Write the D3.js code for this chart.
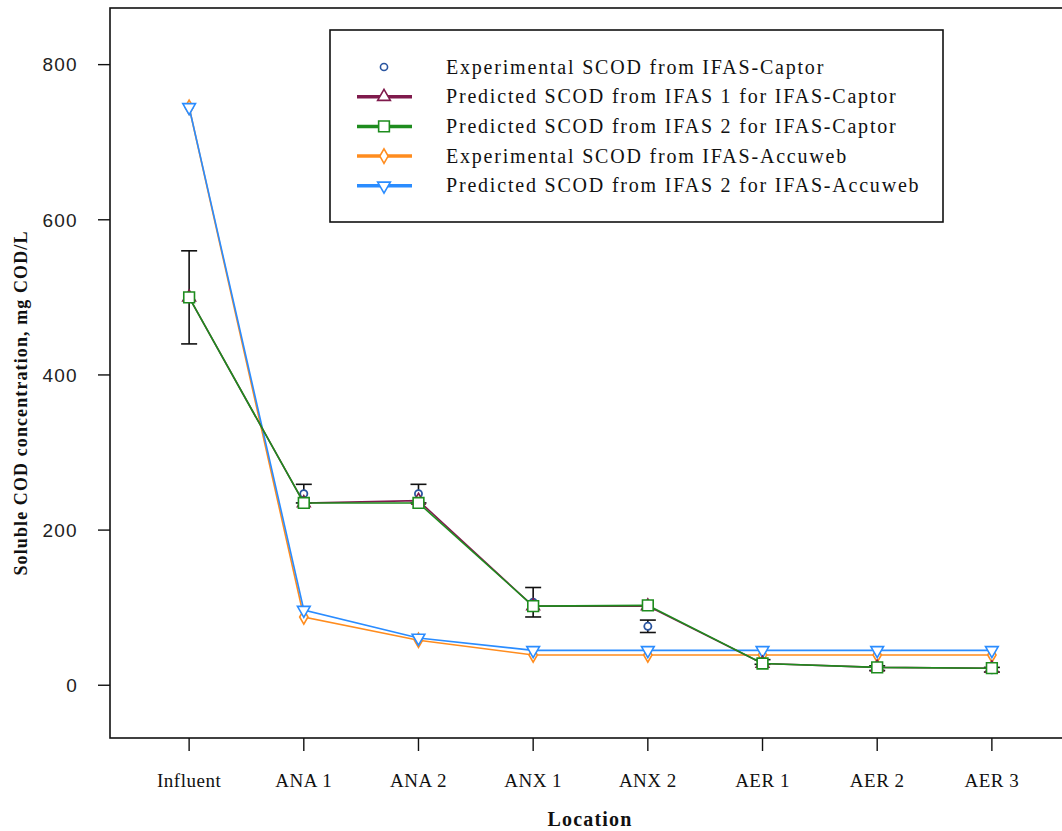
<!DOCTYPE html>
<html><head><meta charset="utf-8">
<script src="https://cdn.jsdelivr.net/npm/d3@7"></script>
<style>body{margin:0;background:#fff}svg{display:block}</style>
</head><body>
<script>
const categories = ["Influent","ANA 1","ANA 2","ANX 1","ANX 2","AER 1","AER 2","AER 3"];
const expCaptor = [500,247,247,107,76,30,22,20];
const expCaptorErr = [60,12,12,19,8,3,3,3];
const predIfas1Captor = [500,235,238,102,102,28,23,22];
const predIfas2Captor = [500,235,235,102,103,28,23,22];
const expAccuweb = [745,88,58,39,39,39,39,39];
const predIfas2Accuweb = [745,97,61,45,45,45,45,45];
const yTicks = [0,200,400,600,800];
const legendLabels = [
  "Experimental SCOD from IFAS-Captor",
  "Predicted SCOD from IFAS 1 for IFAS-Captor",
  "Predicted SCOD from IFAS 2 for IFAS-Captor",
  "Experimental SCOD from IFAS-Accuweb",
  "Predicted SCOD from IFAS 2 for IFAS-Accuweb"
];

const W = 1062, H = 831;
const L = 110, R = 1071, T = 8, B = 738;
const svg = d3.select("body").append("svg").attr("width", W).attr("height", H);

const x = d3.scalePoint().domain(categories).range([L, R]).padding(0.69);
const y = d3.scaleLinear().domain([-68, 873]).range([B, T]);

const C = {exp:"#2a55a0", red:"#7f1a4c", green:"#1e8c1e", orange:"#ff8c1e", blue:"#2a8cff"};

// frame
svg.append("rect").attr("x", L).attr("y", T).attr("width", R - L).attr("height", B - T)
  .attr("fill", "none").attr("stroke", "#111").attr("stroke-width", 1.6);

// y axis
const yAxis = svg.append("g");
yAxis.selectAll("line").data(yTicks).join("line")
  .attr("x1", L - 12).attr("x2", L).attr("y1", d => y(d)).attr("y2", d => y(d))
  .attr("stroke", "#111").attr("stroke-width", 1.4);
yAxis.selectAll("text").data(yTicks).join("text")
  .attr("x", 78).attr("y", d => y(d)).attr("dy", "0.36em").attr("text-anchor", "end")
  .attr("font-family", "Liberation Sans, Arial, sans-serif").attr("font-size", 19)
  .attr("letter-spacing", 1.3).attr("fill", "#222").text(d => d);

// x axis
const xAxis = svg.append("g");
xAxis.selectAll("line").data(categories).join("line")
  .attr("x1", d => x(d)).attr("x2", d => x(d)).attr("y1", B).attr("y2", B + 13)
  .attr("stroke", "#111").attr("stroke-width", 1.4);
xAxis.selectAll("text").data(categories).join("text")
  .attr("x", d => x(d)).attr("y", 787).attr("text-anchor", "middle")
  .attr("font-family", "Liberation Serif, Times New Roman, serif").attr("font-size", 19)
  .attr("letter-spacing", 0.5).attr("fill", "#111").text(d => d);

svg.append("text").attr("x", 590).attr("y", 826).attr("text-anchor", "middle")
  .attr("font-family", "Liberation Serif, serif").attr("font-weight", "bold").attr("font-size", 20)
  .attr("letter-spacing", 1.2).attr("fill", "#111").text("Location");
svg.append("text").attr("transform", "translate(27,403) rotate(-90)").attr("text-anchor", "middle")
  .attr("font-family", "Liberation Serif, serif").attr("font-weight", "bold").attr("font-size", 18)
  .attr("letter-spacing", 1.1).attr("fill", "#111").text("Soluble COD concentration, mg COD/L");

// marker shapes
const sym = {
  circle: d3.symbol().type(d3.symbolCircle).size(40),
  tri: d3.symbol().type(d3.symbolTriangle).size(70),
  square: d3.symbol().type(d3.symbolSquare).size(115),
  diamond: d3.symbol().type(d3.symbolDiamond).size(60)
};
const idx = categories.map((c, i) => i);

// error bars
const eb = svg.append("g").attr("stroke", "#111").attr("stroke-width", 1.6);
idx.forEach(i => {
  const cx = x(categories[i]), lo = y(expCaptor[i] - expCaptorErr[i]), hi = y(expCaptor[i] + expCaptorErr[i]);
  eb.append("line").attr("x1", cx).attr("x2", cx).attr("y1", lo).attr("y2", hi);
  eb.append("line").attr("x1", cx - 8).attr("x2", cx + 8).attr("y1", lo).attr("y2", lo);
  eb.append("line").attr("x1", cx - 8).attr("x2", cx + 8).attr("y1", hi).attr("y2", hi);
});
// experimental captor markers
svg.append("g").selectAll("path").data(idx).join("path")
  .attr("transform", i => `translate(${x(categories[i])},${y(expCaptor[i])})`)
  .attr("d", sym.circle()).attr("fill", "#fff").attr("stroke", C.exp).attr("stroke-width", 1.8);

function series(vals, color, shape, rot) {
  const line = d3.line().x(i => x(categories[i])).y(i => y(vals[i]));
  const g = svg.append("g");
  g.append("path").datum(idx).attr("d", line).attr("fill", "none").attr("stroke", color).attr("stroke-width", 1.6);
  g.selectAll("path.m").data(idx).join("path").attr("class", "m")
    .attr("transform", i => `translate(${x(categories[i])},${y(vals[i])}) rotate(${rot})`)
    .attr("d", shape()).attr("fill", "#fff").attr("stroke", color).attr("stroke-width", 1.6);
}
series(expAccuweb, C.orange, sym.diamond, 0);
series(predIfas2Accuweb, C.blue, sym.tri, 180);
series(predIfas1Captor, C.red, sym.tri, 0);
series(predIfas2Captor, C.green, sym.square, 0);

// legend
const lg = svg.append("g");
lg.append("rect").attr("x", 330).attr("y", 30).attr("width", 613).attr("height", 192)
  .attr("fill", "#fff").attr("stroke", "#111").attr("stroke-width", 1.6);
const legendStyles = [
  {color: C.exp, shape: sym.circle, rot: 0, line: false},
  {color: C.red, shape: sym.tri, rot: 0, line: true},
  {color: C.green, shape: sym.square, rot: 0, line: true},
  {color: C.orange, shape: sym.diamond, rot: 0, line: true},
  {color: C.blue, shape: sym.tri, rot: 180, line: true}
];
legendLabels.forEach((lab, k) => {
  const st = legendStyles[k], yy = 67 + k * 29.7;
  if (st.line) lg.append("line").attr("x1", 357).attr("x2", 412).attr("y1", yy).attr("y2", yy)
    .attr("stroke", st.color).attr("stroke-width", 3.5);
  lg.append("path").attr("transform", `translate(384,${yy}) rotate(${st.rot})`).attr("d", st.shape())
    .attr("fill", "#fff").attr("stroke", st.color).attr("stroke-width", 1.6);
  lg.append("text").attr("x", 446).attr("y", yy).attr("dy", "0.33em")
    .attr("font-family", "Liberation Serif, serif").attr("font-size", 20).attr("letter-spacing", 1.8)
    .attr("fill", "#111").text(lab);
});
</script>
</body></html>
